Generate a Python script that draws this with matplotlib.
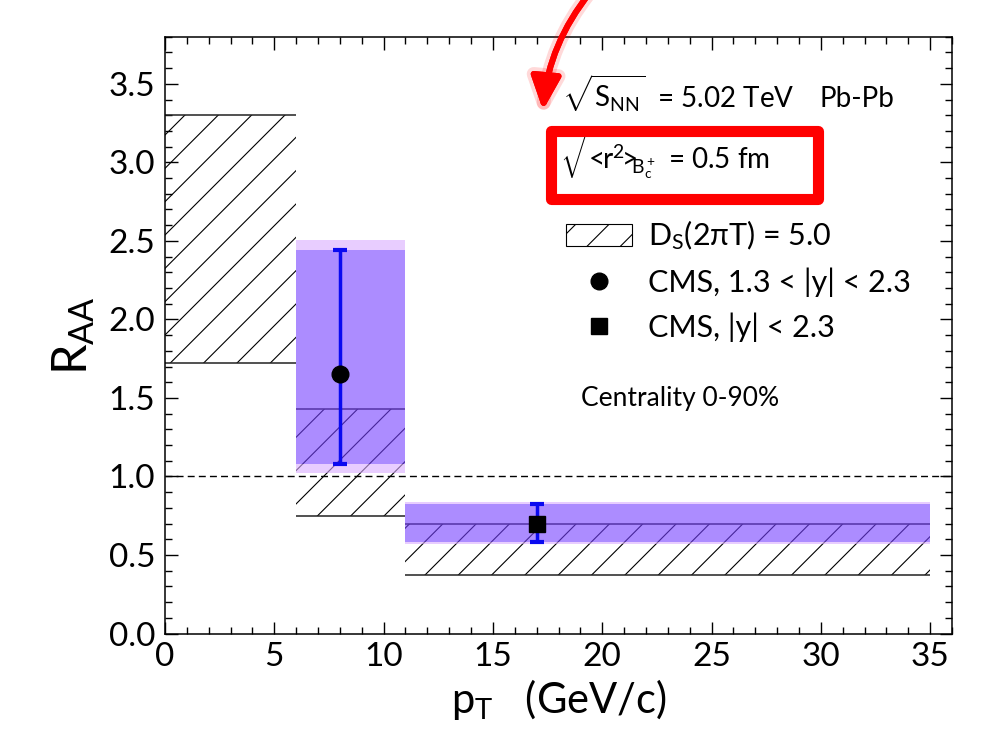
import matplotlib
matplotlib.use("Agg")
from matplotlib import pyplot as plt
from matplotlib.patches import Patch, Rectangle, FancyArrowPatch
from matplotlib.lines import Line2D
from matplotlib.ticker import MultipleLocator, FormatStrFormatter
import matplotlib.patheffects as pe

# D_s(2piT)=5.0 model bands
bin_lo = [0, 6, 11]
bin_hi = [6, 11, 35]
ds_lo = [1.72, 0.75, 0.37]
ds_hi = [3.30, 1.43, 0.70]

# CMS points
cms_pt = [8, 17]
cms_raa = [1.655, 0.70]
cms_err_lo = [1.08, 0.58]
cms_err_hi = [2.445, 0.822]
cms_marker = ["o", "s"]

# CMS systematic boxes (dark core + light rim)
syst_xlo = [6, 11]
syst_xhi = [11, 35]
syst_lo = [1.077, 0.585]
syst_hi = [2.442, 0.822]
syst_rim_lo = [1.02, 0.568]
syst_rim_hi = [2.505, 0.837]

plt.rcParams["font.family"] = ["Lato", "DejaVu Sans"]
plt.rcParams["mathtext.fontset"] = "custom"
plt.rcParams["mathtext.rm"] = "Lato"
plt.rcParams["mathtext.it"] = "Lato:italic"
plt.rcParams["hatch.linewidth"] = 0.8

fig = plt.figure(figsize=(10, 7.49), dpi=100)
ax = fig.add_axes([0.165, 0.1542, 0.787, 0.7968])

for x0, x1, lo, hi in zip(bin_lo, bin_hi, ds_lo, ds_hi):
    ax.fill_between([x0, x1], lo, hi, hatch="/", facecolor="none",
                    edgecolor="black", linewidth=0, zorder=2)
    ax.hlines([lo, hi], x0, x1, color="#222222", linewidth=1.1, zorder=2)

dark = (117 / 255, 63 / 255, 1.0)
light = (217 / 255, 172 / 255, 1.0)
for x0, x1, lo, hi, rlo, rhi in zip(syst_xlo, syst_xhi, syst_lo, syst_hi,
                                     syst_rim_lo, syst_rim_hi):
    ax.fill_between([x0, x1], rlo, lo, color=light, alpha=0.6, linewidth=0, zorder=3)
    ax.fill_between([x0, x1], hi, rhi, color=light, alpha=0.6, linewidth=0, zorder=3)
    ax.fill_between([x0, x1], lo, hi, color=dark, alpha=0.6, linewidth=0, zorder=3)

ax.axhline(1.0, color="black", linestyle=(0, (5, 3)), linewidth=1.0, zorder=3)

yerr = [[r - l for r, l in zip(cms_raa, cms_err_lo)],
        [h - r for r, h in zip(cms_raa, cms_err_hi)]]
ax.errorbar(cms_pt, cms_raa, yerr=yerr, fmt="none", ecolor="#0A0AF0",
            elinewidth=2.5, capsize=5, capthick=3, zorder=4)
for x, y, m in zip(cms_pt, cms_raa, cms_marker):
    ax.plot(x, y, marker=m, color="black", markersize=12 if m == "o" else 11.5,
            linestyle="none", zorder=5)

ax.set_xlim(0, 36)
ax.set_ylim(0, 3.8)
ax.xaxis.set_major_locator(MultipleLocator(5))
ax.xaxis.set_minor_locator(MultipleLocator(1))
ax.yaxis.set_major_locator(MultipleLocator(0.5))
ax.yaxis.set_minor_locator(MultipleLocator(0.1))
ax.yaxis.set_major_formatter(FormatStrFormatter("%.1f"))
ax.tick_params(which="both", direction="in", top=True, right=True, width=1.0)
ax.tick_params(which="major", length=9, labelsize=24)
ax.tick_params(axis="x", which="major", pad=6)
ax.tick_params(axis="y", which="major", pad=7)
ax.tick_params(which="minor", length=5)
for s in ax.spines.values():
    s.set_linewidth(1.1)

ax.set_xlabel(r"p$_{\mathrm{T}}$   (GeV/c)", fontsize=30, labelpad=4)
ax.set_ylabel(r"R$_{\mathrm{AA}}$", fontsize=35, labelpad=8)

ax.text(0.504, 0.882, r"$\sqrt{\mathrm{S}_{\mathrm{NN}}}$  = 5.02 TeV",
        transform=ax.transAxes, fontsize=20, va="baseline")
ax.text(0.832, 0.882, "Pb-Pb", transform=ax.transAxes, fontsize=20,
        va="baseline")
ax.text(0.502, 0.778,
        r"$\sqrt{\!<\!\!\mathrm{r}^2\!\!>\!\!\!{}_{\mathrm{B_c^+}}}$ = 0.5 fm",
        transform=ax.transAxes, fontsize=20, va="baseline")
ax.text(0.529, 0.382, "Centrality 0-90%", transform=ax.transAxes,
        fontsize=19, va="baseline")

handles = [
    Patch(facecolor="none", edgecolor="black", hatch="/", linewidth=0.8),
    Line2D([], [], marker="o", color="black", linestyle="none", markersize=12),
    Line2D([], [], marker="s", color="black", linestyle="none", markersize=11.5),
]
labels = [r"D$_{\mathrm{S}}$(2πT) = 5.0", "CMS, 1.3 < |y| < 2.3", "CMS, |y| < 2.3"]
ax.legend(handles, labels, loc="upper left", bbox_to_anchor=(0.5095, 0.695),
          frameon=False, borderpad=0, borderaxespad=0, handlelength=2.15,
          handleheight=0.75, handletextpad=0.55, labelspacing=0.5, fontsize=22)

# red highlight box and arrow
fig.add_artist(Rectangle((0.5505, 1 - 198.5 / 749), 0.267, 68 / 749,
                         transform=fig.transFigure, facecolor="none",
                         edgecolor="#FF0000", linewidth=8, joinstyle="round"))
arrow = FancyArrowPatch((0.59, 1.01), (0.543, 1 - 110 / 749),
                        transform=fig.transFigure,
                        connectionstyle="arc3,rad=0.15",
                        arrowstyle="-|>,head_length=1.0,head_width=0.45",
                        mutation_scale=20, color="#FF0000", linewidth=4.3,
                        shrinkA=0, shrinkB=0)
arrow.set_path_effects([pe.withStroke(linewidth=10, foreground=(1, 0, 0, 0.15)),
                        pe.Normal()])
fig.add_artist(arrow)

fig.savefig("out.png", dpi=100)
